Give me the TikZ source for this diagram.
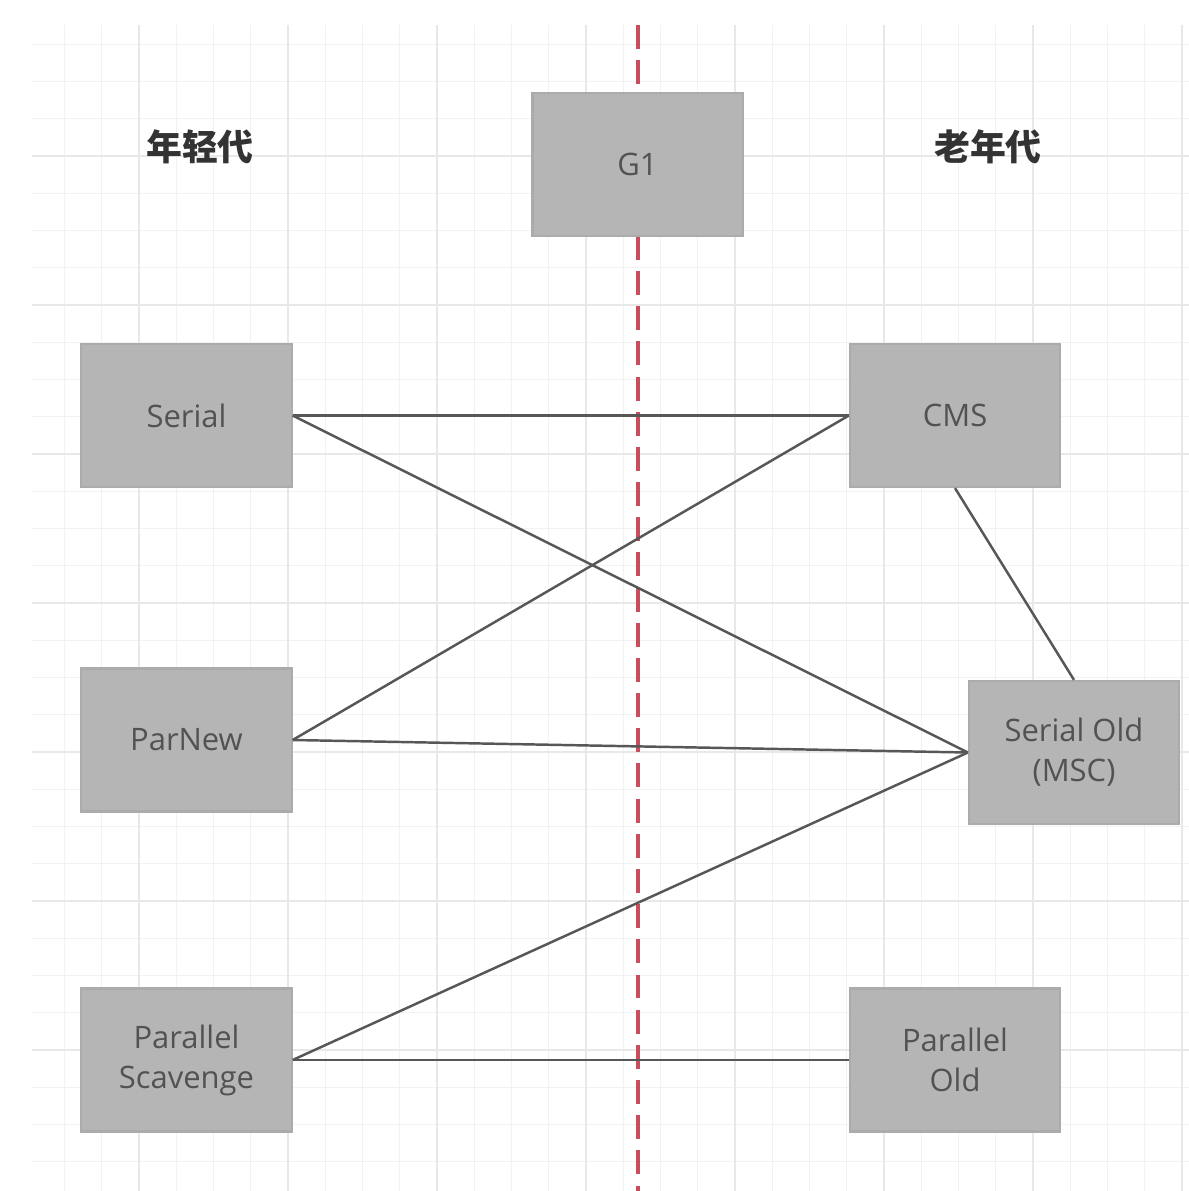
\documentclass[tikz,border=0pt]{standalone}
\usepackage{fontspec}
\setmainfont{Open Sans}
\newfontfamily\cjk{Noto Sans CJK SC}
\begin{document}
\begin{tikzpicture}[x=0.01cm,y=-0.01cm,
  gcbox/.style={draw=black!33,line width=0.6pt,fill=black!29,text=black!68,
    minimum width=2.1cm,minimum height=1.43cm,inner sep=0pt,align=center,
    font=\fontsize{8.8pt}{11.4pt}\selectfont},
  link/.style={draw=black!66,line width=0.7pt},
  header/.style={text=black!80,font=\cjk\bfseries\fontsize{10.2pt}{12pt}\selectfont,inner sep=0pt},
  minorgrid/.style={draw=black!5,line width=0.35pt},
  majorgrid/.style={draw=black!9,line width=0.45pt}]
\useasboundingbox (0,0) rectangle (1189,1191);
\fill[white] (0,0) rectangle (1189,1191);
\begin{scope}
\clip (32,25) rectangle (1189,1191);
\foreach \i in {-3,...,28}{
  \draw[minorgrid] ({139+\i*37.25},25) -- ({139+\i*37.25},1191);
  \draw[minorgrid] (32,{156+\i*37.25}) -- (1189,{156+\i*37.25});
}
\foreach \i in {-4,0,...,28}{
  \draw[majorgrid] ({139+\i*37.25},25) -- ({139+\i*37.25},1191);
  \draw[majorgrid] (32,{156+\i*37.25}) -- (1189,{156+\i*37.25});
}
\end{scope}
\coordinate (rtop) at (638,25);
\coordinate (rbot) at (638,1191);
\draw[draw={rgb,255:red,200;green,78;blue,94},line width=1.15pt,dash pattern=on 6.8pt off 3.2pt] (rtop) -- (rbot);
\node[header] (young) at (200,147) {年轻代};
\node[header] (old) at (988,147) {老年代};
\node[gcbox] (g1) at (637.5,164.5) {G1};
\node[gcbox] (serial) at (186.5,415.5) {Serial};
\node[gcbox] (cms) at (955,415.5) {CMS};
\node[gcbox] (parnew) at (186.5,740) {ParNew};
\node[gcbox] (serialold) at (1074,752.5) {Serial Old\\(MSC)};
\node[gcbox] (ps) at (186.5,1060) {Parallel\\Scavenge};
\node[gcbox] (po) at (955,1060) {Parallel\\Old};
\draw[link] (serial.east) -- (cms.west);
\draw[link] (serial.east) -- (serialold.west);
\draw[link] (cms.west) -- (parnew.east);
\draw[link] (parnew.east) -- (serialold.west);
\draw[link] (cms.south) -- (serialold.north);
\draw[link] (ps.east) -- (serialold.west);
\draw[link] (ps.east) -- (po.west);
\end{tikzpicture}
\end{document}
